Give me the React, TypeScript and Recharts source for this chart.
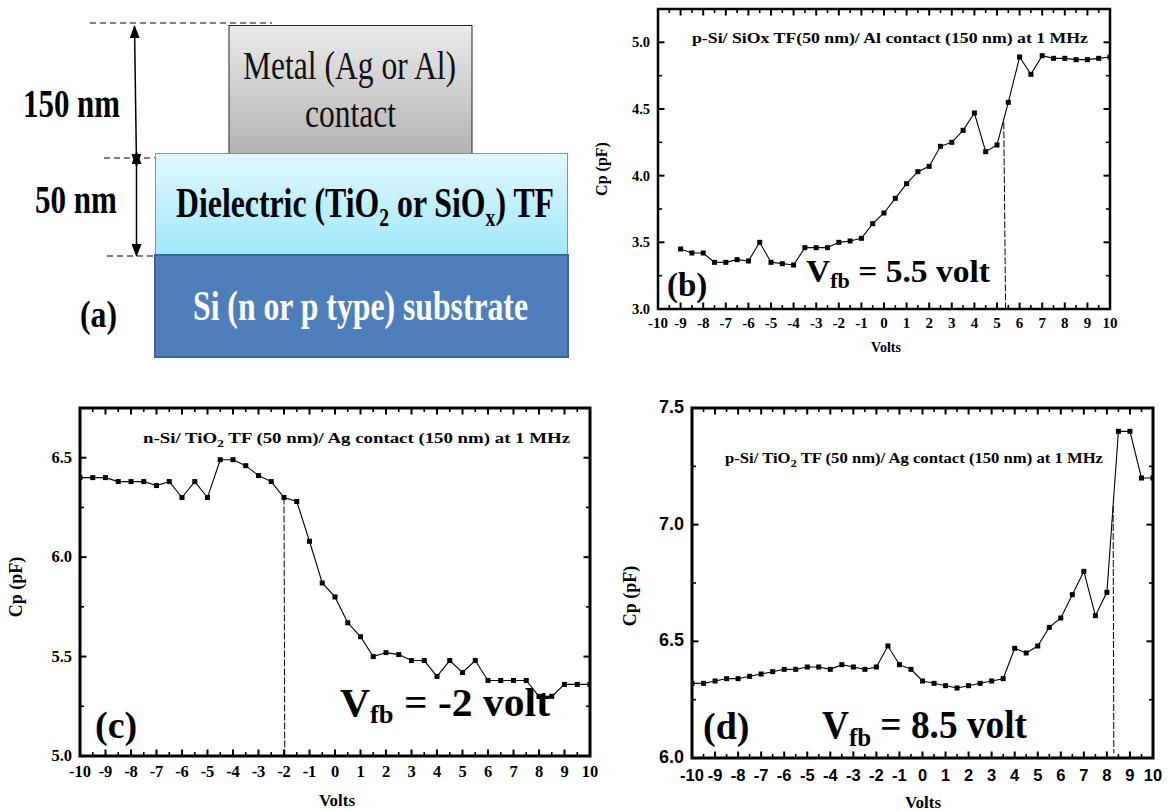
import React from "react";
import { LineChart, Line, XAxis, YAxis, ReferenceArea, ReferenceLine } from "recharts";

const SERIF = "'Liberation Serif', serif";

const voltsB = [-9,-8.5,-8,-7.5,-7,-6.5,-6,-5.5,-5,-4.5,-4,-3.5,-3,-2.5,-2,-1.5,-1,-0.5,0,0.5,1,1.5,2,2.5,3,3.5,4,4.5,5,5.5,6,6.5,7,7.5,8,8.5,9,9.5,10];
const cpB = [3.45,3.42,3.42,3.35,3.35,3.37,3.36,3.5,3.35,3.34,3.33,3.46,3.46,3.46,3.5,3.51,3.53,3.64,3.72,3.83,3.94,4.03,4.07,4.22,4.25,4.34,4.47,4.18,4.23,4.55,4.89,4.76,4.9,4.88,4.88,4.87,4.87,4.88,4.89];
const voltsFull = [-10,-9.5,-9,-8.5,-8,-7.5,-7,-6.5,-6,-5.5,-5,-4.5,-4,-3.5,-3,-2.5,-2,-1.5,-1,-0.5,0,0.5,1,1.5,2,2.5,3,3.5,4,4.5,5,5.5,6,6.5,7,7.5,8,8.5,9,9.5,10];
const cpC = [6.4,6.4,6.4,6.38,6.38,6.38,6.36,6.38,6.3,6.38,6.3,6.49,6.49,6.46,6.41,6.38,6.3,6.28,6.08,5.87,5.8,5.67,5.6,5.5,5.52,5.51,5.48,5.48,5.4,5.48,5.42,5.48,5.38,5.38,5.38,5.38,5.3,5.3,5.36,5.36,5.36];
const cpD = [6.32,6.32,6.33,6.34,6.34,6.35,6.36,6.37,6.38,6.38,6.39,6.39,6.38,6.4,6.39,6.38,6.39,6.48,6.4,6.38,6.33,6.32,6.31,6.3,6.31,6.32,6.33,6.34,6.47,6.45,6.48,6.56,6.6,6.7,6.8,6.61,6.71,7.4,7.4,7.2,7.2];

const xTicks = [-10,-9.5,-9,-8.5,-8,-7.5,-7,-6.5,-6,-5.5,-5,-4.5,-4,-3.5,-3,-2.5,-2,-1.5,-1,-0.5,0,0.5,1,1.5,2,2.5,3,3.5,4,4.5,5,5.5,6,6.5,7,7.5,8,8.5,9,9.5,10];
const yTicksB = [3,3.25,3.5,3.75,4,4.25,4.5,4.75,5];
const yTicksC = [5,5.25,5.5,5.75,6,6.25,6.5];
const yTicksD = [6,6.25,6.5,6.75,7,7.25,7.5];

type P = {
  volts: number[]; cp: number[]; yDomain: [number, number]; yTicks: number[];
  left: number; right: number; top: number; bottom: number;
  font: string; fs: number; yfs: number; xdy: number; dash: { x: number; y: number }[]; lw: number;
};

const panels: P[] = [
  { volts: voltsB, cp: cpB, yDomain: [3, 5.25], yTicks: yTicksB, left: 658, right: 1110, top: 9, bottom: 309, font: SERIF, fs: 15, yfs: 14.5, xdy: 19, dash: [{ x: 5.3, y: 4.4 }, { x: 5.38, y: 3 }], lw: 2.5 },
  { volts: voltsFull, cp: cpC, yDomain: [5, 6.75], yTicks: yTicksC, left: 80, right: 590, top: 408, bottom: 756, font: SERIF, fs: 16.5, yfs: 16.5, xdy: 21, dash: [{ x: -2, y: 6.3 }, { x: -1.97, y: 5 }], lw: 3 },
  { volts: voltsFull, cp: cpD, yDomain: [6, 7.5], yTicks: yTicksD, left: 692, right: 1153, top: 408, bottom: 758, font: "'Liberation Sans', sans-serif", fs: 16.5, yfs: 18, xdy: 23, dash: [{ x: 8.27, y: 7.08 }, { x: 8.3, y: 6.02 }], lw: 3 },
];

const Square = (props: any) => (
  <rect key={props.index} x={props.cx - 2.5} y={props.cy - 2.5} width={5} height={5} fill="#000" />
);

function Panel({ p }: { p: P }) {
  const W = p.right - p.left + 90;
  const H = p.bottom - p.top + 60;
  const data = p.volts.map((v, i) => ({ v, c: p.cp[i] }));
  const mL = 60, mT = 10;
  const plotTop = mT, plotBottom = mT + (p.bottom - p.top);
  const plotLeft = mL, plotRight = mL + (p.right - p.left);
  const xTick = (t: any) => {
    const major = Number.isInteger(t.payload.value);
    const len = major ? 6.5 : 4;
    return (
      <g key={t.index}>
        <line x1={t.x} x2={t.x} y1={plotBottom} y2={plotBottom - len} stroke="#000" strokeWidth={major ? 2 : 1.6} />
        <line x1={t.x} x2={t.x} y1={plotTop} y2={plotTop + len} stroke="#000" strokeWidth={major ? 2 : 1.6} />
        {major && (
          <text x={t.x} y={plotBottom + p.xdy} textAnchor="middle" fontFamily={p.font} fontWeight="bold" fontSize={p.fs} fill="#000">
            {t.payload.value}
          </text>
        )}
      </g>
    );
  };
  const yTick = (t: any) => {
    const v = t.payload.value;
    const major = Math.abs(v * 2 - Math.round(v * 2)) < 1e-6;
    const len = major ? 6.5 : 4;
    return (
      <g key={t.index}>
        <line x1={plotLeft} x2={plotLeft + len} y1={t.y} y2={t.y} stroke="#000" strokeWidth={major ? 2 : 1.6} />
        <line x1={plotRight} x2={plotRight - len} y1={t.y} y2={t.y} stroke="#000" strokeWidth={major ? 2 : 1.6} />
        {major && (
          <text x={plotLeft - 8} y={t.y + 5} textAnchor="end" fontFamily={p.font} fontWeight="bold" fontSize={p.yfs} fill="#000">
            {v.toFixed(1)}
          </text>
        )}
      </g>
    );
  };
  return (
    <div style={{ position: "absolute", left: p.left - mL, top: p.top - mT }}>
      <LineChart width={W} height={H} data={data} margin={{ left: mL - 1, top: mT, right: W - plotRight, bottom: H - plotBottom - 1 }}>
        <XAxis dataKey="v" type="number" domain={[-10, 10]} ticks={xTicks} interval={0} axisLine={false} tickLine={false} tick={xTick} height={1} allowDataOverflow />
        <YAxis type="number" domain={p.yDomain} ticks={p.yTicks} interval={0} axisLine={false} tickLine={false} tick={yTick} width={1} allowDataOverflow />
        <ReferenceArea x1={-10} x2={10} y1={p.yDomain[0]} y2={p.yDomain[1]} fill="none" stroke="#000" strokeWidth={p.lw} fillOpacity={0} />
        <ReferenceLine segment={p.dash} stroke="#000" strokeDasharray="7 2" strokeWidth={1} />
        <Line dataKey="c" type="linear" stroke="#000" strokeWidth={1.1} dot={Square} activeDot={false} isAnimationActive={false} />
      </LineChart>
    </div>
  );
}

const T = (props: any) => <text fontFamily={SERIF} fontWeight="bold" fill="#000" {...props} />;

function Overlay() {
  return (
    <svg width={1172} height={811} style={{ position: "absolute", left: 0, top: 0, pointerEvents: "none" }}>
      <defs>
        <linearGradient id="metal" x1="0" y1="0" x2="0" y2="1">
          <stop offset="0" stopColor="#ebebeb" /><stop offset="1" stopColor="#b3b3b3" />
        </linearGradient>
        <linearGradient id="diel" x1="0" y1="0" x2="0" y2="1">
          <stop offset="0" stopColor="#e2f8ff" /><stop offset="1" stopColor="#9fe8fc" />
        </linearGradient>
        <marker id="ah" markerWidth="13" markerHeight="10" refX="12" refY="5" orient="auto-start-reverse" markerUnits="userSpaceOnUse" viewBox="0 0 13 10">
          <path d="M0,0 L13,5 L0,10 Z" fill="#000" />
        </marker>
      </defs>
      <rect x={229} y={25.5} width={243} height={128} fill="url(#metal)" stroke="#222" strokeWidth={1} />
      <rect x={155.5} y={153.5} width={412} height={101} fill="url(#diel)" stroke="#46aac4" strokeWidth={1} />
      <rect x={155} y={255} width={413} height={102} fill="#4f7fbb" stroke="#3d6494" strokeWidth={2} />
      <g stroke="#000" strokeWidth={1.2} strokeDasharray="6 4" fill="none">
        <line x1={90} y1={23} x2={272} y2={23} />
        <line x1={104} y1={158} x2={155} y2={158} />
        <line x1={107} y1={256} x2={155} y2={256} />
      </g>
      <line x1={134.5} y1={26} x2={136.5} y2={166} stroke="#000" strokeWidth={1.5} markerStart="url(#ah)" markerEnd="url(#ah)" />
      <line x1={136.5} y1={152} x2={136.5} y2={256} stroke="#000" strokeWidth={1.5} markerStart="url(#ah)" markerEnd="url(#ah)" />

      <text x={243} y={79} fontFamily={SERIF} fontSize={41} textLength={213} lengthAdjust="spacingAndGlyphs" fill="#111">Metal (Ag or Al)</text>
      <text x={305} y={127} fontFamily={SERIF} fontSize={40} textLength={91} lengthAdjust="spacingAndGlyphs" fill="#111">contact</text>
      <T x={176} y={217} fontSize={42} textLength={378} lengthAdjust="spacingAndGlyphs">Dielectric (TiO<tspan fontSize={26} dy={9}>2</tspan><tspan dy={-9}> or SiO</tspan><tspan fontSize={26} dy={9}>x</tspan><tspan dy={-9}>) TF</tspan></T>
      <text x={193} y={320} fontFamily={SERIF} fontWeight="bold" fontSize={42} textLength={335} lengthAdjust="spacingAndGlyphs" fill="#fff">Si (n or p type) substrate</text>
      <T x={23} y={117} fontSize={40} textLength={97} lengthAdjust="spacingAndGlyphs">150 nm</T>
      <T x={35} y={213} fontSize={40} textLength={82} lengthAdjust="spacingAndGlyphs">50 nm</T>
      <T x={80} y={327} fontSize={38} textLength={37} lengthAdjust="spacingAndGlyphs">(a)</T>

      <T x={692} y={43} fontSize={14.5} textLength={396} lengthAdjust="spacingAndGlyphs">p-Si/ SiOx TF(50 nm)/ Al contact (150 nm) at 1 MHz</T>
      <T x={143} y={443} fontSize={15} textLength={427} lengthAdjust="spacingAndGlyphs">n-Si/ TiO<tspan fontSize={11} dy={4}>2</tspan><tspan dy={-4}> TF (50 nm)/ Ag contact (150 nm) at 1 MHz</tspan></T>
      <T x={725} y={463} fontSize={14.5} textLength={378} lengthAdjust="spacingAndGlyphs">p-Si/ TiO<tspan fontSize={11} dy={4}>2</tspan><tspan dy={-4}>  TF (50 nm)/ Ag contact (150 nm) at 1 MHz</tspan></T>

      <T x={806} y={282} fontSize={32} textLength={184} lengthAdjust="spacingAndGlyphs">V<tspan fontSize={21} dy={6}>fb</tspan><tspan dy={-6}> = 5.5 volt</tspan></T>
      <T x={340} y={716} fontSize={41} textLength={210} lengthAdjust="spacingAndGlyphs">V<tspan fontSize={26} dy={7}>fb</tspan><tspan dy={-7}> = -2 volt</tspan></T>
      <T x={822} y={738} fontSize={39} textLength={205} lengthAdjust="spacingAndGlyphs">V<tspan fontSize={26} dy={8}>fb</tspan><tspan dy={-8}> = 8.5 volt</tspan></T>
      <T x={667} y={296} fontSize={33}>(b)</T>
      <T x={95} y={738} fontSize={38}>(c)</T>
      <T x={703} y={739} fontSize={38}>(d)</T>

      <T x={886} y={352} fontSize={14} textAnchor="middle">Volts</T>
      <T x={337} y={806} fontSize={17} textAnchor="middle">Volts</T>
      <T x={923} y={808} fontSize={17} textAnchor="middle">Volts</T>
      <T transform="translate(607,169) rotate(-90)" fontSize={16} textAnchor="middle">Cp (pF)</T>
      <T transform="translate(22,587) rotate(-90)" fontSize={18} textAnchor="middle">Cp (pF)</T>
      <T transform="translate(636,596) rotate(-90)" fontSize={18} textAnchor="middle">Cp (pF)</T>
    </svg>
  );
}

export default function App() {
  return (
    <div style={{ position: "absolute", left: 0, top: 0, width: 1172, height: 811, overflow: "hidden", background: "#fff" }}>
      {panels.map((p, i) => <Panel key={i} p={p} />)}
      <Overlay />
    </div>
  );
}
